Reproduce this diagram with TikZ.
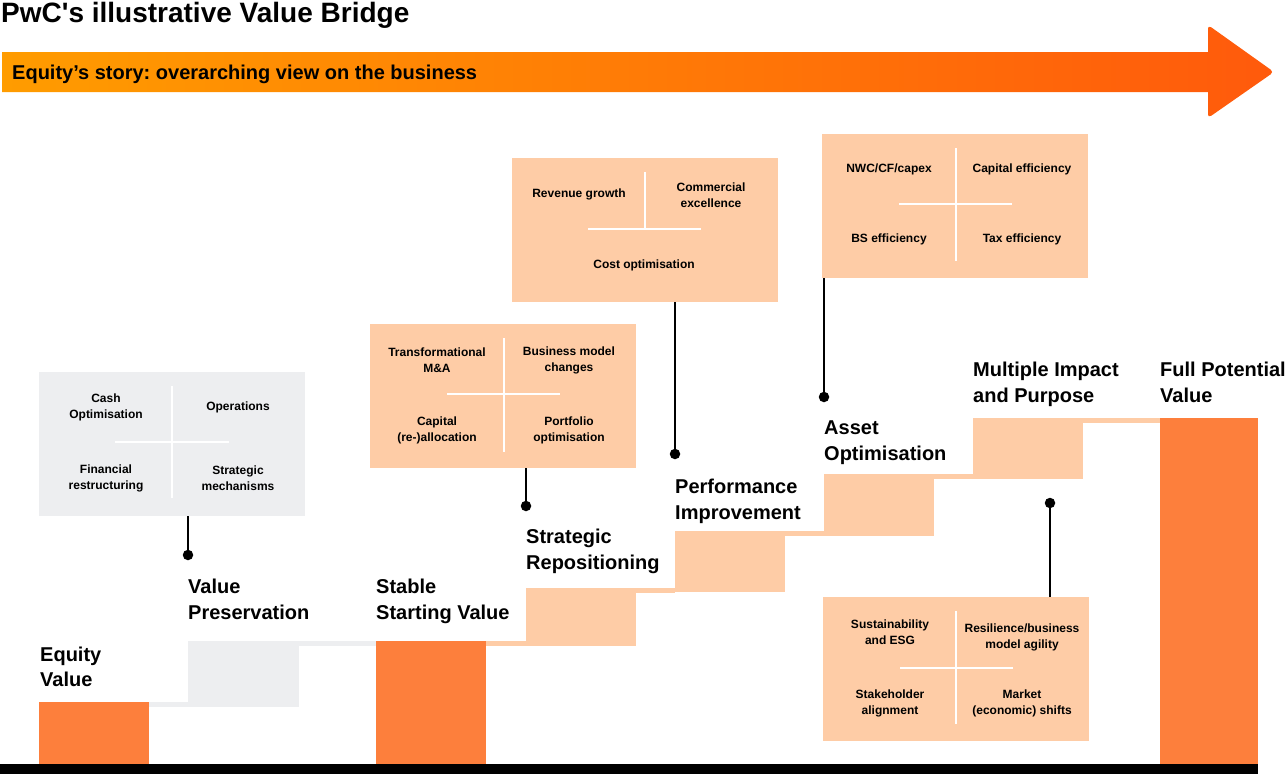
\documentclass[tikz,border=0pt]{standalone}
\usepackage{fontspec}
\setmainfont{Liberation Sans}[Ligatures=TeXOff]
\usetikzlibrary{calc}
\frenchspacing
\definecolor{barorange}{HTML}{FD7F3C}
\definecolor{peach}{HTML}{FECCA6}
\definecolor{greybox}{HTML}{EDEEF0}
\definecolor{arrL}{HTML}{FF9C00}
\definecolor{arrR}{HTML}{FF5A0C}
\tikzset{
  infobox/.style={draw=none, anchor=north west, minimum width=266pt, minimum height=144pt, inner sep=0pt},
  crossline/.style={draw=white, line width=1.6pt},
  small/.style={font=\fontsize{12}{16}\selectfont\bfseries, align=center, inner sep=0pt},
  steplbl/.style={font=\fontsize{20}{25}\selectfont\bfseries, anchor=base west, inner sep=0pt},
  conn/.style={draw=black, line width=2.6pt},
  dot/.style={circle, fill=black, inner sep=0pt, minimum size=10.5pt},
}
\begin{document}
\begin{tikzpicture}[x=1pt,y=-1pt]
\useasboundingbox (0,0) rectangle (1286,774);
% title
\node[anchor=base west, inner sep=0pt, font=\fontsize{28}{32}\selectfont\bfseries] (title) at (1,22.5) {PwC's illustrative Value Bridge};
% big arrow
\shade[left color=arrL, right color=arrR] (2,52) -- (1208,52) -- (1208,27) [rounded corners=4pt] -- (1208,25) -- (1274,72) -- (1208,118) [sharp corners] -- (1208,116) -- (1208,92) -- (2,92) -- cycle;
\node[anchor=base west, inner sep=0pt, font=\fontsize{20}{24}\selectfont\bfseries] (story) at (12,79) {Equity’s story: overarching view on the business};
% bottom line
\fill[black] (0,763.5) rectangle (1258,774);
% bars and strips
\fill[barorange] (39,702) rectangle (149,763.5);
\fill[greybox] (149,702) rectangle (188,707);
\fill[greybox] (188,641) rectangle (299,707);
\fill[greybox] (299,641) rectangle (376,646);
\fill[barorange] (376,641) rectangle (486,763.5);
\fill[peach] (486,641) rectangle (526,646);
\fill[peach] (526,588) rectangle (636,646);
\fill[peach] (636,588) rectangle (675,593);
\fill[peach] (675,531) rectangle (785,592);
\fill[peach] (785,531) rectangle (824,536);
\fill[peach] (824,474) rectangle (934,536);
\fill[peach] (934,474) rectangle (973,479);
\fill[peach] (973,418) rectangle (1083,479);
\fill[peach] (1083,418) rectangle (1160,423);
\fill[barorange] (1160,418) rectangle (1258,763.5);
% step labels
\node[steplbl] (ev1) at (40,661) {Equity};
\node[steplbl] (ev2) at (40,686) {Value};
\node[steplbl] (vp1) at (188,593) {Value};
\node[steplbl] (vp2) at (188,619) {Preservation};
\node[steplbl] (ss1) at (376,593) {Stable};
\node[steplbl] (ss2) at (376,619) {Starting Value};
\node[steplbl] (sr1) at (526,543) {Strategic};
\node[steplbl] (sr2) at (526,569) {Repositioning};
\node[steplbl] (pi1) at (675,493) {Performance};
\node[steplbl] (pi2) at (675,519) {Improvement};
\node[steplbl] (ao1) at (824,434) {Asset};
\node[steplbl] (ao2) at (824,460) {Optimisation};
\node[steplbl] (mi1) at (973,376) {Multiple Impact};
\node[steplbl] (mi2) at (973,402) {and Purpose};
\node[steplbl] (fp1) at (1160,376) {Full Potential};
\node[steplbl] (fp2) at (1160,402) {Value};
% box 1 (grey)
\node[infobox, fill=greybox] (b1) at (39,372) {};
\draw[crossline] (172,386) -- (172,498);
\draw[crossline] (115,442) -- (229,442);
\node[small] (t11) at (106,407) {Cash\\Optimisation};
\node[small] (t12) at (238,407) {Operations};
\node[small] (t13) at (106,478) {Financial\\restructuring};
\node[small] (t14) at (238,478) {Strategic\\mechanisms};
% box 2
\node[infobox, fill=peach] (b2) at (370,324) {};
\draw[crossline] (504,338) -- (504,452);
\draw[crossline] (447,394) -- (560,394);
\node[small] (t21) at (437,360) {Transformational\\M\&A};
\node[small] (t22) at (569,360) {Business model\\changes};
\node[small] (t23) at (437,430) {Capital\\(re-)allocation};
\node[small] (t24) at (569,430) {Portfolio\\optimisation};
% box 3
\node[infobox, fill=peach] (b3) at (512,158) {};
\draw[crossline] (645,172) -- (645,229);
\draw[crossline] (588,229) -- (701,229);
\node[small] (t31) at (579,194) {Revenue growth};
\node[small] (t32) at (711,195) {Commercial\\excellence};
\node[small] (t33) at (644,265) {Cost optimisation};
% box 4
\node[infobox, fill=peach] (b4) at (822,134) {};
\draw[crossline] (956,148) -- (956,261);
\draw[crossline] (899,204) -- (1012,204);
\node[small] (t41) at (889,169) {NWC/CF/capex};
\node[small] (t42) at (1022,169) {Capital efficiency};
\node[small] (t43) at (889,239) {BS efficiency};
\node[small] (t44) at (1022,239) {Tax efficiency};
% box 5
\node[infobox, fill=peach] (b5) at (823,597) {};
\draw[crossline] (956,611) -- (956,724);
\draw[crossline] (900,668) -- (1013,668);
\node[small] (t51) at (890,632) {Sustainability\\and ESG};
\node[small] (t52) at (1022,637) {Resilience/business\\model agility};
\node[small] (t53) at (890,703) {Stakeholder\\alignment};
\node[small] (t54) at (1022,703) {Market\\(economic) shifts};
% connectors
\node[dot] (d1) at (188,555) {};
\node[dot] (d2) at (526,506) {};
\node[dot] (d3) at (675,454) {};
\node[dot] (d4) at (824,397) {};
\node[dot] (d5) at (1050,503) {};
\draw[conn] (b1.south -| d1) -- (d1.center);
\draw[conn] (b2.south -| d2) -- (d2.center);
\draw[conn] (b3.south -| d3) -- (d3.center);
\draw[conn] (b4.south -| d4) -- (d4.center);
\draw[conn] (b5.north -| d5) -- (d5.center);
\end{tikzpicture}
\end{document}
